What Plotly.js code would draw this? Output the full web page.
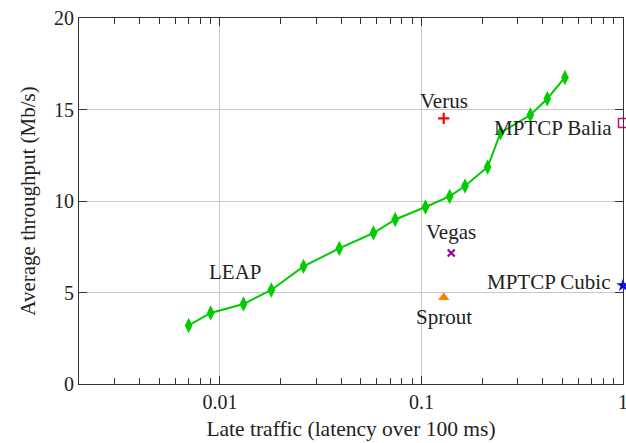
<!DOCTYPE html>
<html><head><meta charset="utf-8">
<script src="https://cdn.plot.ly/plotly-3.0.1.min.js"></script>
<style>html,body{margin:0;padding:0;background:#fff}#chart{width:626px;height:443px}</style>
</head><body><div id="chart"></div>
<script>
// LEAP curve
const leapX = [0.0070, 0.0090, 0.0131, 0.0180, 0.0260, 0.0391, 0.0578, 0.0741, 0.1047, 0.138, 0.1645, 0.213, 0.247, 0.347, 0.421, 0.515];
const leapY = [3.20, 3.88, 4.37, 5.14, 6.43, 7.41, 8.25, 8.99, 9.67, 10.25, 10.82, 11.86, 13.73, 14.70, 15.59, 16.75];
// Other schemes
const otherNames = ["Verus", "Vegas", "Sprout", "MPTCP Balia", "MPTCP Cubic"];
const otherX = [0.129, 0.1406, 0.129, 1.0, 1.0];
const otherY = [14.51, 7.16, 4.72, 14.26, 5.39];
// Axis ticks
const xTickVals = [0.01, 0.1, 1];
const xTickText = ["0.01", "0.1", "1"];
const xMinorVals = [0.003,0.004,0.005,0.006,0.007,0.008,0.009,0.02,0.03,0.04,0.05,0.06,0.07,0.08,0.09,0.2,0.3,0.4,0.5,0.6,0.7,0.8,0.9];
const yTickVals = [0, 5, 10, 15, 20];

const FONT = "Liberation Serif, Times New Roman, serif";
const styles = [
  {symbol:"cross-thin", color:"#ff0000", size:8, lw:2.2, xa:"center", dx:0, dy:17},
  {symbol:"x-thin", color:"#a000a0", size:7, lw:2.2, xa:"center", dx:0, dy:21},
  {symbol:"triangle-up", color:"#ff7f00", size:10, lw:0, xa:"center", dx:0, dy:-19},
  {symbol:"square-open", color:"#e6007e", size:9, lw:1.5, xa:"right", dx:-9, dy:-5},
  {symbol:"star", color:"#0000ff", size:10, lw:0, xa:"right", dx:-10, dy:3}
];

const traces = [{
  x: leapX, y: leapY, type:"scatter", mode:"lines+markers",
  line:{color:"#00cc00", width:2},
  marker:{symbol:"diamond-tall", size:11, color:"#00cc00"},
  cliponaxis:false, showlegend:false
}];
const annotations = [{
  xref:"x", yref:"y", x:Math.log10(0.012), y:6.1,
  text:"LEAP", showarrow:false, xanchor:"center", yanchor:"middle",
  font:{family:FONT, size:21, color:"#222"}
}];
otherNames.forEach((n,i)=>{
  const s = styles[i];
  traces.push({
    x:[otherX[i]], y:[otherY[i]], type:"scatter", mode:"markers",
    marker:{symbol:s.symbol, size:s.size, color:s.color, line:{color:s.color, width:s.lw}},
    cliponaxis:false, showlegend:false
  });
  annotations.push({
    xref:"x", yref:"y", x:Math.log10(otherX[i]), y:otherY[i],
    text:n, showarrow:false, xanchor:s.xa, yanchor:"middle",
    xshift:s.dx, yshift:s.dy,
    font:{family:FONT, size:21, color:"#222"}
  });
});

const layout = {
  width:626, height:443,
  margin:{l:79, r:3, t:18, b:59},
  paper_bgcolor:"#fff", plot_bgcolor:"#fff",
  font:{family:FONT, size:21, color:"#222"},
  xaxis:{
    type:"log", range:[Math.log10(0.002), 0],
    tickmode:"array", tickvals:xTickVals, ticktext:xTickText,
    ticks:"inside", ticklen:8, tickcolor:"#333", tickwidth:1,
    showgrid:true, gridcolor:"#c8c8c8", gridwidth:1,
    showline:true, linecolor:"#333", linewidth:1, mirror:"allticks",
    zeroline:false, ticklabeloverflow:"allow",
    tickfont:{family:FONT, size:20, color:"#222"},
    minor:{tickmode:"array", tickvals:xMinorVals, ticks:"inside", ticklen:6, tickcolor:"#333", showgrid:false},
    title:{text:"Late traffic (latency over 100 ms)", font:{family:FONT, size:21.5, color:"#222"}, standoff:8}
  },
  yaxis:{
    range:[0,20], tickmode:"array", tickvals:yTickVals,
    ticks:"inside", ticklen:8, tickcolor:"#333", tickwidth:1,
    showgrid:true, gridcolor:"#c8c8c8", gridwidth:1,
    showline:true, linecolor:"#333", linewidth:1, mirror:"allticks",
    zeroline:false,
    tickfont:{family:FONT, size:20, color:"#222"},
    title:{text:"Average throughput (Mb/s)", font:{family:FONT, size:21, color:"#222"}, standoff:12}
  },
  annotations: annotations
};
Plotly.newPlot("chart", traces, layout, {staticPlot:true, displayModeBar:false});
</script></body></html>
